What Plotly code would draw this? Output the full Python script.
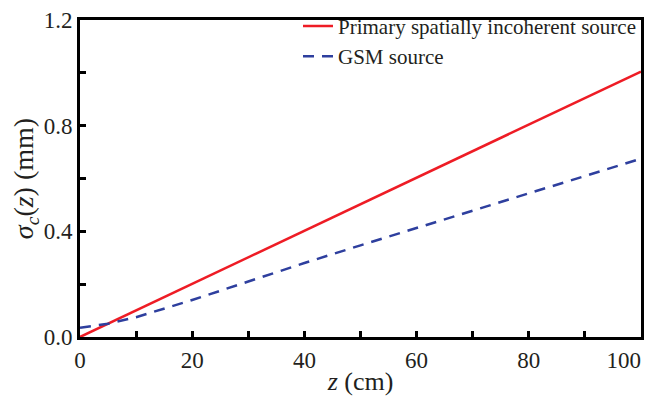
import plotly.graph_objects as go

z_red = [0, 100]
sigma_red = [0.0, 1.005]

z_blue = [0, 5, 10, 20, 30, 40, 50, 60, 70, 80, 90, 100]
sigma_blue = [0.035, 0.05, 0.075, 0.14, 0.21, 0.28, 0.347, 0.413, 0.48, 0.545, 0.61, 0.675]

x_ticks = [0, 20, 40, 60, 80, 100]
x_ticklabels = ["0", "20", "40", "60", "80", "100\u00a0\u00a0\u00a0\u00a0\u00a0\u00a0"]
y_ticks = [0.0, 0.4, 0.8, 1.2]
y_ticklabels = ["0.0", "0.4", "0.8", "1.2"]
x_minor_step = 10
y_minor_step = 0.2

FONT = "Liberation Serif"
TXT = "#231F20"

fig = go.Figure()
fig.add_trace(go.Scatter(x=z_red, y=sigma_red, mode="lines",
                         name="Primary spatially incoherent source",
                         line=dict(color="#EE1C25", width=2.5)))
fig.add_trace(go.Scatter(x=z_blue, y=sigma_blue, mode="lines",
                         name="GSM source",
                         line=dict(color="#2E3F9E", width=2.5, dash="11px,8px")))

axis_common = dict(showline=True, linecolor="#000000", linewidth=3, mirror=True,
                   ticks="inside", ticklen=6, tickwidth=3, tickcolor="#000000",
                   showgrid=False, zeroline=False, tickmode="array",
                   ticklabeloverflow="allow", automargin=False,
                   tickfont=dict(family=FONT, size=23, color=TXT))

fig.update_xaxes(range=[0, 100], tickvals=x_ticks, ticktext=x_ticklabels,
                 minor=dict(tickmode="linear", tick0=0, dtick=x_minor_step, ticks="inside",
                            ticklen=6, tickwidth=3, tickcolor="#000000", showgrid=False),
                 title=dict(text="<i>z</i> (cm)", font=dict(family=FONT, size=26, color=TXT), standoff=1),
                 **axis_common)
fig.update_yaxes(range=[0, 1.2], tickvals=y_ticks, ticktext=y_ticklabels,
                 minor=dict(tickmode="linear", tick0=0, dtick=y_minor_step, ticks="inside",
                            ticklen=6, tickwidth=3, tickcolor="#000000", showgrid=False),
                 title=dict(text="<i>σ</i><sub><i>c</i></sub>(<i>z</i>) (mm)", font=dict(family=FONT, size=28, color=TXT), standoff=2),
                 **axis_common)

fig.update_layout(width=647, height=397, margin=dict(l=80, r=6, t=10, b=60),
                  paper_bgcolor="white", plot_bgcolor="white",
                  showlegend=True,
                  legend=dict(x=1, y=1.045, xanchor="right", yanchor="top",
                              bgcolor="rgba(0,0,0,0)", borderwidth=0,
                              font=dict(family=FONT, size=21, color=TXT),
                              tracegroupgap=0))

fig.write_html("out.html")
